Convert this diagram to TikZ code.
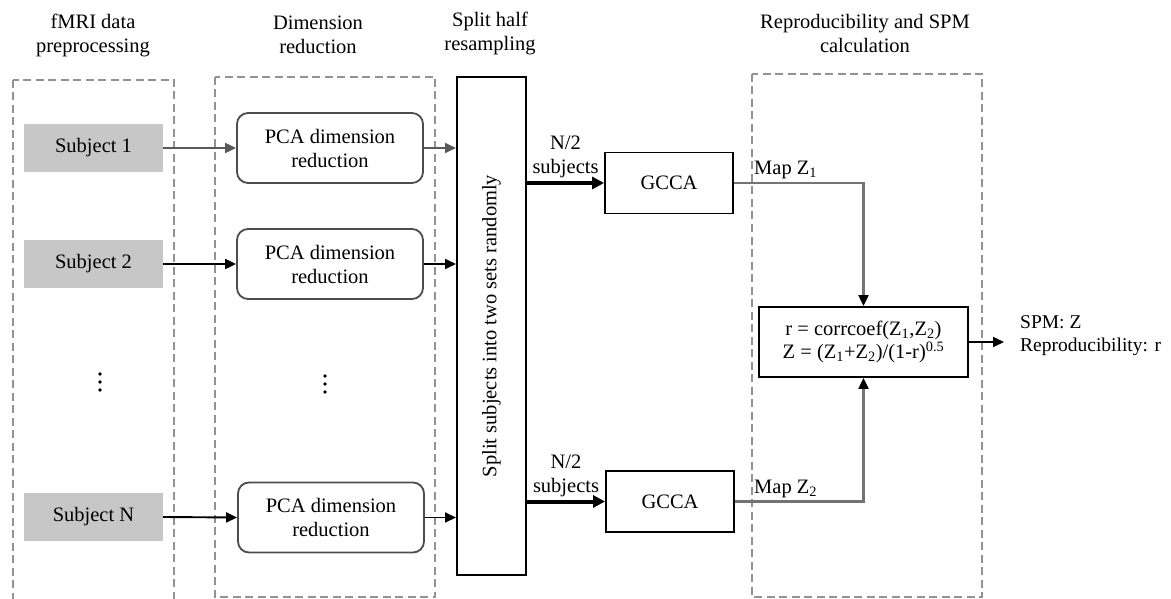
\documentclass[tikz,border=0pt]{standalone}
\usepackage{fontspec}
\setmainfont{Liberation Serif}
\usetikzlibrary{arrows.meta,positioning}
\begin{document}
\begin{tikzpicture}[x=1pt,y=-1pt,
  every node/.style={font=\fontsize{20.5}{24}\selectfont},
  title/.style={align=center,inner sep=0},
  stage/.style={draw=gray!85,dash pattern=on 8pt off 4.5pt,line width=1.7pt},
  subj/.style={fill=black!22,minimum width=139pt,minimum height=48pt,inner sep=0},
  pca/.style={draw=black!70,rounded corners=11pt,line width=1.8pt,minimum width=186pt,minimum height=70pt,align=center,inner sep=0},
  gcca/.style={draw=black,line width=1.9pt,minimum width=128pt,minimum height=61pt,inner sep=0},
  conn/.style={line width=1.9pt,-{Triangle[length=11pt,width=10pt]}},
  thick conn/.style={line width=4pt,-{Triangle[length=12pt,width=12pt]}},
  map/.style={draw=black!55,line width=2.2pt,-{Triangle[length=11pt,width=10pt,color=black]}},
  dot/.style={fill=black}
]
\useasboundingbox (0,0) rectangle (1171,599);
% stage frames
\draw[stage] (13,80) rectangle (174,603);
\draw[stage] (215,77) rectangle (435,597);
\draw[stage] (752,74) rectangle (982,597);
% titles
\node[title] (t1) at (93,35) {fMRI data\\preprocessing};
\node[title] (t2) at (318,35) {Dimension\\reduction};
\node[title] (t3) at (490,33) {Split half\\resampling};
\node[title] (t4) at (865,33) {Reproducibility and SPM\\calculation};
% subjects
\node[subj] (s1) at (93.5,148) {Subject 1};
\node[subj] (s2) at (93.5,264) {Subject 2};
\node[subj] (sn) at (93.5,517) {Subject N};
\fill[dot] (100,374) circle (1.8pt) (100,382) circle (1.8pt) (100,390) circle (1.8pt);
\fill[dot] (325,376) circle (1.8pt) (325,384) circle (1.8pt) (325,392) circle (1.8pt);
% PCA
\node[pca] (p1) at (330,148) {PCA dimension\\reduction};
\node[pca] (p2) at (330,264) {PCA dimension\\reduction};
\node[pca] (pn) at (331,517.5) {PCA dimension\\reduction};
% split
\node[draw,line width=2pt,minimum width=69pt,minimum height=498pt,inner sep=0,
  label={[rotate=90,font=\fontsize{20.5}{24}\selectfont]center:Split subjects into two sets randomly}] (sp) at (491.5,326) {};
% GCCA
\node[gcca] (g1) at (669,183) {GCCA};
\node[gcca] (g2) at (670,501.5) {GCCA};
% formula
\node[draw,line width=1.9pt,minimum width=209pt,minimum height=70pt,align=center,inner sep=0] (f) at (863.5,342)
  {r = corrcoef(Z\textsubscript{1},Z\textsubscript{2})\\[-1pt]Z = (Z\textsubscript{1}+Z\textsubscript{2})/(1-r)\textsuperscript{0.5}};
\coordinate (out) at (1004,342);
\node[align=left,anchor=west,inner sep=0,font=\fontsize{19.5}{23}\selectfont] (res) at (1020,336) {SPM: Z\\Reproducibility: r};
% connectors
\draw[conn,draw=black!65] (s1.east) -- (p1.west);
\draw[conn] (s2.east) -- (p2.west);
\draw[conn] (sn.east) -- (pn.west);
\draw[conn,draw=black!65] (p1.east) -- (p1.east -| sp.west);
\draw[conn] (p2.east) -- (p2.east -| sp.west);
\draw[conn] (pn.east) -- (pn.east -| sp.west);
\draw[thick conn] (sp.east |- g1.west) -- (g1.west)
  node[pos=0.5,above=3pt,align=center,inner sep=0] (l1) {N/2\\subjects};
\draw[thick conn] (sp.east |- g2.west) -- (g2.west)
  node[pos=0.5,above=3pt,align=center,inner sep=0] (l2) {N/2\\subjects};
\draw[map] (g1.east) -| (f.north);
\draw[map] (g2.east) -| (f.south);
\node[anchor=south west,inner sep=0] (m1) at (754,179) {Map Z\textsubscript{1}};
\node[anchor=south west,inner sep=0] (m2) at (754,498) {Map Z\textsubscript{2}};
\draw[conn] (f.east) -- (out);
\end{tikzpicture}
\end{document}
